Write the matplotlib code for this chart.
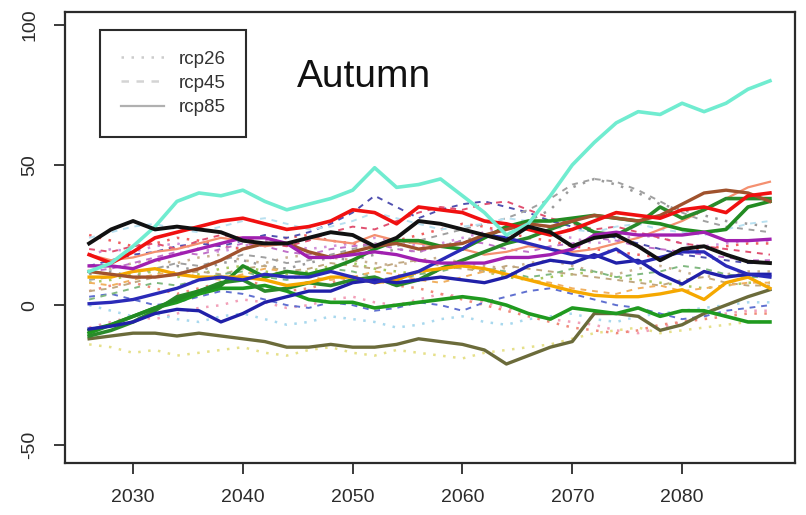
import numpy as np
import matplotlib
matplotlib.use('Agg')
import matplotlib.pyplot as plt
from matplotlib.lines import Line2D

# Autumn change (%) per model run, 2026-2088, three scenarios

years = np.arange(2026, 2089, 2)

# rcp85 runs (solid)
rcp85_aquamarine = [12, 15, 21, 28, 37, 40, 39, 41, 37, 34, 36, 38, 41, 49, 42, 43,
                    45, 39, 33, 25, 29, 39, 50, 58, 65, 69, 68, 72, 69, 72, 77, 80]
rcp85_black = [22, 27, 30, 27, 28, 27, 26, 23, 22, 22, 24, 26, 25, 21, 24, 30,
               29, 27, 25, 23, 28, 26, 21, 24, 25, 21, 16, 20, 21, 18, 15.5, 15]
rcp85_red = [18, 15, 19, 24, 26, 28, 30, 31, 29, 27, 28, 30, 34, 33, 29, 35,
             34, 33, 30, 29, 27, 25, 27, 30, 33, 32, 31, 34, 35, 33, 39, 40]
rcp85_purple = [14, 14, 13, 16, 18, 20, 22, 24, 24, 22, 17, 17, 18, 19, 18, 16,
                15, 15, 15, 17, 17, 18, 20, 25, 26, 25, 25, 25, 26, 23, 23, 23.5]
rcp85_brown = [12, 11, 10, 10, 11, 13, 16, 20, 22, 22, 19, 17, 19, 21, 22, 20,
               21, 22, 25, 27, 29, 28, 30, 32, 31, 30, 32, 36, 40, 41, 40, 37]
rcp85_blue_a = [0.5, 1, 2, 4, 6, 9, 10, 9, 11, 10, 10, 12, 10, 8, 10, 12,
                16, 20, 25, 24, 22, 20, 18, 17, 20, 15, 17, 19, 19, 14, 11, 10]
rcp85_blue_b = [-8.5, -7.5, -6, -3, -1.5, -2, -6, -3, 1, 3, 5, 5, 8, 9, 8, 9,
                10, 9, 8, 10, 14, 16, 15, 18, 15, 16, 11, 7.5, 12, 10, 11, 11]
rcp85_orange = [10, 10, 12, 13, 11, 10, 10, 10, 9, 7, 8, 10, 10, 8, 9, 12,
                13, 14, 13, 11, 9, 7, 5, 3.5, 3, 3, 4, 5.5, 2, 8, 10, 6]
rcp85_green_a = [-10, -7, -4, -1, 1, 4, 6, 6, 7, 5, 2, 1, 1, -1, 0, 1,
                 2, 3, 2, 0, -3, -5, -1, -2, -3, -1, -4, -2, -2, -4, -6, -6]
rcp85_green_b = [-9, -7, -4, -1, 2, 5, 7, 14, 10, 12, 11, 13, 16, 20, 23, 23,
                 21, 20, 24, 28, 30, 30, 31, 32, 31, 30, 29, 27, 26, 27, 35, 37]
rcp85_green_c = [-11, -9, -6, -2, 3, 5, 8, 9, 5, 6, 8, 7, 9, 10, 7, 9,
                 13, 16, 19, 22, 24, 27, 30, 26, 25, 29, 35, 31, 34, 38, 38, 38]
rcp85_olive = [-12, -11, -10, -10, -11, -10, -11, -12, -13, -15, -15, -14, -15, -15, -14, -12,
               -13, -14, -16, -21, -18, -15, -13, -3, -3, -4, -9, -7, -3, 0, 3, 5.5]
rcp85_tomato = [18, 16, 17, 19, 20, 22, 24, 23, 21, 22, 24, 23, 22, 25, 23, 22,
                21, 20, 18, 19, 21, 20, 19, 20, 22, 24, 27, 30, 34, 38, 42, 44]

# rcp45 runs (dashed)
rcp45_slateblue = [14, 16, 18, 19, 21, 22, 21, 23, 25, 24, 26, 29, 33, 39, 35, 31,
                   34, 36, 37, 35, 33, 30, 28, 26, 24, 22, 20, 18, 17, 16, 15, 15]
rcp45_crimson = [20, 19, 21, 22, 20, 23, 25, 24, 22, 21, 23, 26, 28, 27, 30, 33,
                 35, 34, 36, 37, 34, 31, 29, 27, 28, 26, 24, 22, 21, 20, 19, 18]
rcp45_grey = [9, 10, 12, 13, 15, 14, 16, 18, 17, 15, 16, 18, 20, 22, 21, 23,
              25, 27, 29, 31, 34, 38, 43, 45, 44, 41, 37, 33, 30, 28, 27, 26]
rcp45_tan = [5, 6, 8, 10, 11, 12, 11, 13, 14, 12, 13, 15, 14, 13, 15, 16,
             14, 13, 12, 14, 13, 12, 11, 10, 9, 8, 7, 9, 10, 8, 7, 7]
rcp45_orchid = [12, 13, 15, 17, 19, 18, 20, 22, 21, 19, 18, 20, 21, 22, 20, 19,
                21, 23, 22, 20, 19, 21, 22, 24, 23, 21, 20, 19, 18, 17, 16, 16]
rcp45_royalblue = [3, 4, 2, 0, 1, 3, 5, 4, 2, 0, -1, 1, 0, -2, -1, 1,
                   0, -2, 1, 3, 5, 6, 4, 2, 0, -1, -3, -5, -4, -2, -1, 0]
rcp45_green = [2, 4, 6, 8, 7, 9, 11, 12, 10, 9, 11, 13, 12, 10, 9, 11,
               12, 14, 13, 12, 10, 11, 13, 12, 10, 11, 12, 14, 13, 11, 10, 10]
rcp45_orange = [8, 7, 9, 11, 12, 10, 9, 11, 13, 12, 10, 9, 10, 12, 11, 9,
                8, 10, 12, 11, 9, 8, 6, 5, 4, 6, 7, 5, 6, 7, 8, 8]
rcp45_lightblue = [24, 26, 28, 29, 27, 26, 28, 30, 31, 29, 27, 28, 30, 33, 31, 29,
                   27, 28, 29, 31, 30, 28, 27, 26, 28, 29, 27, 26, 25, 27, 29, 30]

# rcp26 runs (dotted)
rcp26_pink = [-8, -6, -4, -5, -3, -1, 0, 2, 1, -1, 0, 2, 3, 1, 0, 2,
              4, 3, 1, -1, -3, -5, -6, -7, -9, -10, -8, -6, -4, -3, -2, -2]
rcp26_khaki = [-14, -15, -17, -16, -18, -17, -16, -15, -17, -18, -16, -15, -17, -18, -16, -17,
               -18, -19, -17, -16, -15, -14, -12, -10, -9, -8, -10, -9, -8, -7, -6, -6]
rcp26_grey = [11, 12, 10, 13, 14, 12, 15, 16, 14, 13, 15, 17, 16, 18, 20, 19,
              21, 23, 25, 27, 30, 34, 42, 45, 43, 40, 36, 34, 32, 30, 29, 28]
rcp26_salmon = [5, 7, 8, 6, 4, 6, 8, 9, 7, 5, 6, 8, 10, 9, 7, 6,
                4, 2, 0, -2, -4, -6, -8, -9, -10, -9, -7, -6, -5, -4, -3, -3]
rcp26_yellowgreen = [8, 9, 11, 12, 10, 11, 13, 14, 12, 11, 12, 14, 15, 13, 12, 11,
                     13, 14, 12, 10, 9, 10, 11, 12, 10, 9, 8, 7, 6, 7, 8, 8]
rcp26_lightblue = [0, -2, -4, -3, -5, -6, -4, -3, -5, -7, -6, -4, -5, -6, -8, -7,
                   -5, -4, -6, -7, -5, -4, -3, -5, -6, -4, -3, -2, -1, 0, 1, 1]
rcp26_orchid = [18, 20, 19, 21, 22, 20, 19, 21, 23, 22, 20, 21, 22, 24, 23, 21,
                22, 24, 26, 28, 27, 25, 24, 22, 23, 25, 24, 22, 21, 22, 23, 23]
rcp26_tan = [14, 13, 15, 16, 15, 17, 18, 16, 15, 17, 18, 17, 16, 15, 14, 16,
             17, 15, 14, 13, 15, 16, 14, 12, 11, 13, 14, 12, 10, 11, 12, 12]
rcp26_red = [25, 23, 21, 22, 24, 23, 21, 20, 22, 24, 25, 23, 22, 21, 23, 25,
             27, 29, 28, 26, 24, 23, 21, 20, 19, 18, 17, 19, 20, 21, 22, 22]

x_ticks = [2030, 2040, 2050, 2060, 2070, 2080]
y_ticks = [-50, 0, 50, 100]
legend_labels = ['rcp26', 'rcp45', 'rcp85']

##########################################################################################################

tick_font = ['Liberation Sans Narrow', 'Liberation Sans', 'DejaVu Sans']
ink = '#2b2b2b'

fig = plt.figure(figsize=(8.06, 5.15), dpi=100)
ax = fig.add_axes([0.0806, 0.101, 0.906, 0.876])

# dotted first, then dashed, solid runs on top
dotted = [(rcp26_pink, '#f2a0b8'), (rcp26_khaki, '#e6e08a'), (rcp26_grey, '#9a9a9a'),
          (rcp26_salmon, '#f08a7a'), (rcp26_yellowgreen, '#a8c860'), (rcp26_lightblue, '#a8d8ee'),
          (rcp26_orchid, '#d090d8'), (rcp26_tan, '#c8b090'), (rcp26_red, '#f06060')]
for vals, col in dotted:
    ax.plot(years, vals, color=col, lw=1.8, ls=(0, (1, 3)), zorder=2)

dashed = [(rcp45_slateblue, '#5050b0'), (rcp45_crimson, '#e05070'), (rcp45_grey, '#a0a0a0'),
          (rcp45_tan, '#c0a880'), (rcp45_orchid, '#c070c8'), (rcp45_royalblue, '#6070d0'),
          (rcp45_green, '#80b880'), (rcp45_orange, '#f0b060'), (rcp45_lightblue, '#b8e0f0')]
for vals, col in dashed:
    ax.plot(years, vals, color=col, lw=1.4, ls=(0, (3, 3)), zorder=3)

solid = [(rcp85_tomato, '#f49070', 1.6), (rcp85_olive, '#6b6b3a', 2.4),
         (rcp85_green_a, '#1f9a1f', 2.6), (rcp85_green_c, '#2a8a2a', 2.6),
         (rcp85_green_b, '#228b22', 2.6), (rcp85_orange, '#f5a800', 2.4),
         (rcp85_blue_b, '#2020a8', 2.4), (rcp85_blue_a, '#2a2ab8', 2.4),
         (rcp85_brown, '#a0522d', 2.4), (rcp85_purple, '#a020b0', 2.4),
         (rcp85_red, '#f01010', 2.6), (rcp85_aquamarine, '#70ecd0', 2.6),
         (rcp85_black, '#111111', 2.8)]
for vals, col, lw in solid:
    ax.plot(years, vals, color=col, lw=lw, ls='-', zorder=4)

ax.set_xlim(2023.8, 2090.3)
ax.set_ylim(-56.3, 104.6)

ax.set_xticks(x_ticks)
ax.set_yticks(y_ticks)
ax.set_xticklabels([str(t) for t in x_ticks], family=tick_font, fontsize=14, color=ink)
ax.set_yticklabels([str(t) for t in y_ticks], family=tick_font, fontsize=14, color=ink,
                   rotation=90, va='center')
ax.tick_params(axis='both', direction='out', length=8, width=1.3, color=ink, pad=11)

for side in ax.spines.values():
    side.set_linewidth(1.6)
    side.set_color(ink)

ax.text(0.318, 0.856, 'Autumn', transform=ax.transAxes, ha='left', va='center',
        fontsize=28, family=['Liberation Sans', 'DejaVu Sans'], color='#111111')

handles = [Line2D([], [], color='#cccccc', lw=1.8, ls=(0, (1, 3))),
           Line2D([], [], color='#d4d4d4', lw=1.8, ls=(0, (3, 3))),
           Line2D([], [], color='#b0b0b0', lw=1.6, ls='-')]
leg = ax.legend(handles, legend_labels, loc='upper left', bbox_to_anchor=(0.048, 0.96),
                borderaxespad=0, fancybox=False, framealpha=1, edgecolor=ink,
                prop={'family': ['Liberation Sans', 'DejaVu Sans'], 'size': 13.5},
                handlelength=2.3, handletextpad=0.8, labelspacing=0.38,
                borderpad=1.1, labelcolor='#333333')
leg.get_frame().set_linewidth(1.5)

fig.savefig('out.png', dpi=100)
